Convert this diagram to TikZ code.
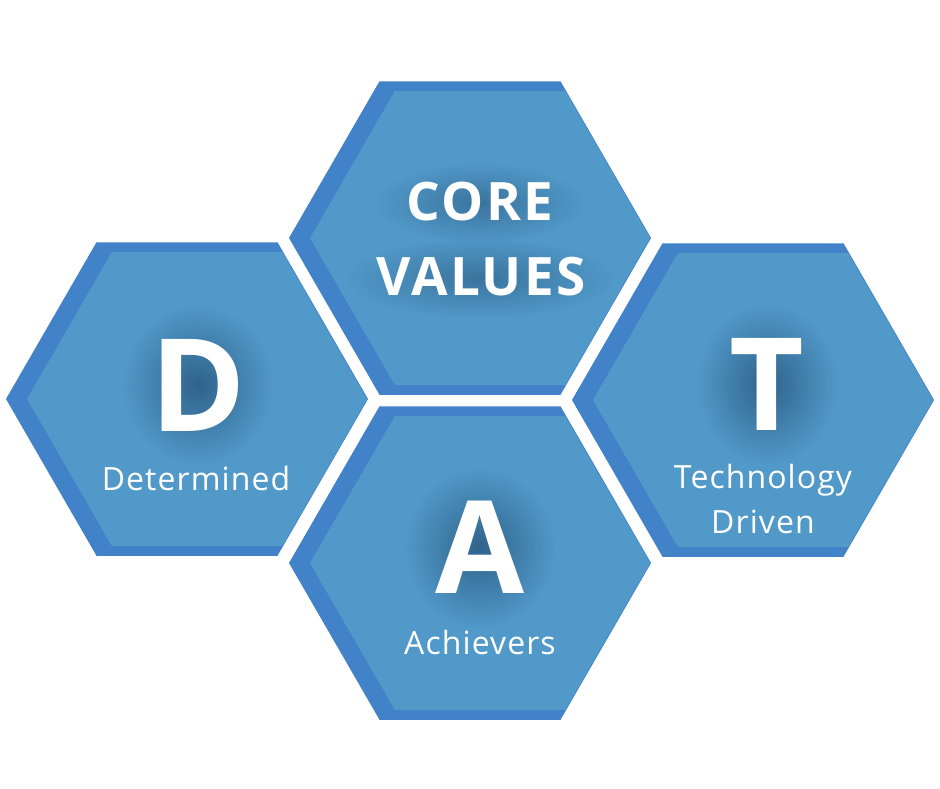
\documentclass[tikz,border=0pt]{standalone}
\usepackage{fontspec}
\setmainfont{Open Sans}
\usetikzlibrary{shapes.geometric,fadings}

\definecolor{hexfill}{RGB}{81,153,201}
\definecolor{hexrim}{RGB}{66,130,200}
\definecolor{glowc}{RGB}{30,70,105}

\tikzfading[name=softglow, inner color=transparent!35, outer color=transparent!100]
\tikzfading[name=wideglow, inner color=transparent!55, outer color=transparent!100]

\tikzset{
  hexrimstyle/.style={regular polygon, regular polygon sides=6, minimum size=362pt,
    inner sep=0pt, outer sep=0pt, fill=hexrim},
  hexface/.style={regular polygon, regular polygon sides=6, minimum size=340pt,
    inner sep=0pt, outer sep=0pt, fill=hexfill},
  glowspot/.style={fill=glowc, path fading=softglow},
  glowband/.style={fill=glowc, path fading=wideglow},
  bigletter/.style={anchor=base, inner sep=0pt, text=white,
    font=\bfseries\fontsize{129}{129}\selectfont},
  titletext/.style={anchor=base, inner sep=0pt, text=white,
    font=\bfseries\fontsize{53}{53}\selectfont\addfontfeatures{LetterSpace=4.5}},
  subtext/.style={anchor=base, inner sep=0pt, text=white,
    font=\fontsize{32}{32}\selectfont\addfontfeatures{LetterSpace=3.4}},
}

\begin{document}
\begin{tikzpicture}[x=1pt, y=-1pt]
  \useasboundingbox[fill=white] (0,0) rectangle (940,788);

  % hexagon cells: darker rim with the lighter face shifted right
  \node[hexrimstyle] (coreRim) at (470,238) {};
  \node[hexface]     (coreFace) at (480,238) {};
  \node[hexrimstyle] (dRim) at (187,399) {};
  \node[hexface]     (dFace) at (197,399) {};
  \node[hexrimstyle] (tRim) at (753,400) {};
  \node[hexface]     (tFace) at (763,400) {};
  \node[hexrimstyle] (aRim) at (470,563) {};
  \node[hexface]     (aFace) at (480,563) {};

  % soft dark halos behind the headline letters
  \fill[glowband] (480,203) ellipse [x radius=105, y radius=40];
  \fill[glowband] (480,278) ellipse [x radius=135, y radius=40];
  \fill[glowspot] (198,385) ellipse [x radius=75, y radius=80];
  \fill[glowspot] (767,384) ellipse [x radius=70, y radius=80];
  \fill[glowspot] (480,548) ellipse [x radius=75, y radius=80];

  % labels
  \node[titletext] (core)   at (480,220) {CORE};
  \node[titletext] (values) at (481,295) {VALUES};

  \node[bigletter] (dLetter) at (198,431) {D};
  \node[subtext]   (dText)   at (196,490) {Determined};

  \node[bigletter] (tLetter) at (767,430) {T};
  \node[subtext]   (tText1)  at (763,488) {Technology};
  \node[subtext]   (tText2)  at (763,533) {Driven};

  \node[bigletter] (aLetter) at (480,593) {A};
  \node[subtext]   (aText)   at (480,654) {Achievers};
\end{tikzpicture}
\end{document}
